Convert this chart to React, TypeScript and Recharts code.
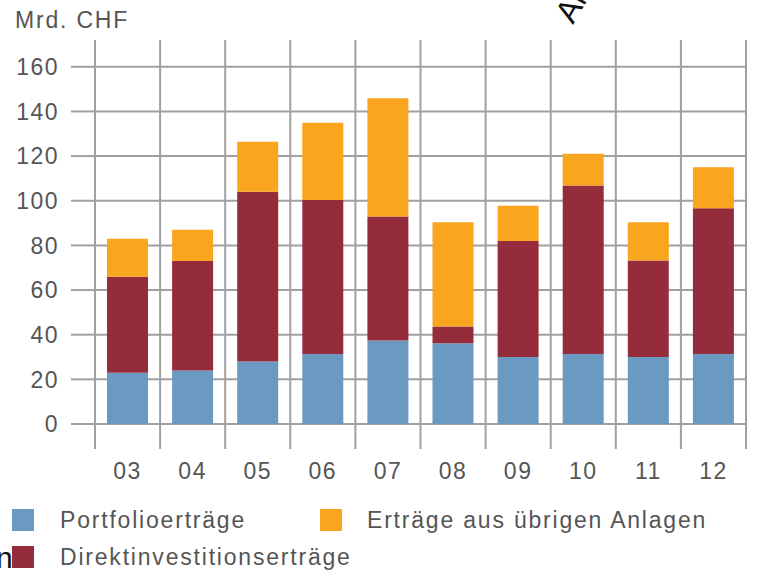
import { BarChart, Bar, XAxis, YAxis, CartesianGrid } from 'recharts';

/* ---- data (Mrd. CHF) ---- */
const YEARS = ['03', '04', '05', '06', '07', '08', '09', '10', '11', '12'];
const PORTFOLIO = [23, 24, 28, 31.3, 37.4, 36.2, 30, 31.3, 30, 31.3];
const DIREKT = [43, 49, 76, 69, 55.5, 7.5, 52, 75.5, 43.2, 65.3];
const UEBRIGE = [17, 14, 22.4, 34.6, 53, 46.7, 15.8, 14.2, 17.2, 18.4];
const Y_TICKS = [0, 20, 40, 60, 80, 100, 120, 140, 160];

const data = YEARS.map((year, i) => ({
  year,
  portfolio: PORTFOLIO[i],
  direkt: DIREKT[i],
  uebrige: UEBRIGE[i],
}));

const BLUE = '#6a9ac2';
const MAROON = '#952c3b';
const ORANGE = '#f9a51e';
const GRID = '#a0a0a0';
const TEXT = '#555555';
const FONT = '"Liberation Sans", Arial, sans-serif';

const tickStyle = {
  fill: TEXT,
  fontSize: 23,
  fontFamily: FONT,
  letterSpacing: 1.5,
};

const legendText: React.CSSProperties = {
  position: 'absolute',
  fontFamily: FONT,
  fontSize: 23,
  letterSpacing: 1.8,
  color: TEXT,
  lineHeight: '24px',
  whiteSpace: 'nowrap',
};

// vertical grid lines sit on the band edges, not on the band centres
function bandEdges({ xAxis, offset }: any) {
  const s = xAxis && xAxis.scale;
  const fn =
    typeof s === 'function' ? s : s && typeof s.map === 'function' ? (v: string) => s.map(v) : null;
  if (fn) {
    const starts = YEARS.map((y) => fn(y)).filter((v: any) => typeof v === 'number');
    if (starts.length === YEARS.length) {
      const step = starts[1] - starts[0];
      return [...starts, starts[starts.length - 1] + step];
    }
  }
  const step = offset.width / YEARS.length;
  return [...YEARS.map((_, i) => offset.left + i * step), offset.left + offset.width];
}

// year label plus the tick marks on the band edges below the zero line
function YearTick(props: any) {
  const { x, y, payload, index } = props;
  const half = payload.offset || 0;
  const last = index === YEARS.length - 1;
  return (
    <g>
      <line x1={x - half} x2={x - half} y1={y} y2={y + 25} stroke={GRID} strokeWidth={2} />
      {last && (
        <line x1={x + half} x2={x + half} y1={y} y2={y + 25} stroke={GRID} strokeWidth={2} />
      )}
      <text
        x={x}
        y={y + 55}
        textAnchor="middle"
        fill={TEXT}
        fontSize={23}
        fontFamily={FONT}
        style={{ letterSpacing: 1.5 }}
      >
        {payload.value}
      </text>
    </g>
  );
}

function Swatch({ x, y, color }: { x: number; y: number; color: string }) {
  return (
    <div
      style={{
        position: 'absolute',
        left: x,
        top: y,
        width: 22,
        height: 22,
        background: color,
      }}
    />
  );
}

export default function App() {
  return (
    <div
      style={{
        position: 'absolute',
        left: 0,
        top: 0,
        width: 761,
        height: 570,
        overflow: 'hidden',
        background: '#fff',
      }}
    >
      {/* unit label */}
      <div style={{ ...legendText, left: 15, top: 8 }}>Mrd. CHF</div>

      <BarChart
        width={761}
        height={570}
        data={data}
        margin={{ top: 40, right: 0, left: 0, bottom: 76 }}
        barSize={41}
      >
        <CartesianGrid
          stroke={GRID}
          strokeWidth={2}
          syncWithTicks
          verticalCoordinatesGenerator={bandEdges}
        />
        <XAxis
          dataKey="year"
          axisLine={false}
          tickLine={false}
          tickSize={0}
          tickMargin={0}
          interval={0}
          tick={<YearTick />}
          height={70}
        />
        <YAxis
          domain={[0, 172]}
          ticks={Y_TICKS}
          width={95}
          axisLine={false}
          tickLine={{ stroke: GRID, strokeWidth: 2 }}
          tickSize={24}
          tickMargin={12}
          tick={tickStyle}
        />
        <YAxis
          yAxisId="right"
          orientation="right"
          domain={[0, 172]}
          ticks={Y_TICKS}
          width={15}
          axisLine={false}
          tickLine={{ stroke: GRID, strokeWidth: 2 }}
          tickSize={15}
          tickFormatter={() => ''}
        />
        <Bar dataKey="portfolio" stackId="a" fill={BLUE} isAnimationActive={false} />
        <Bar dataKey="direkt" stackId="a" fill={MAROON} isAnimationActive={false} />
        <Bar dataKey="uebrige" stackId="a" fill={ORANGE} isAnimationActive={false} />
      </BarChart>

      {/* legend */}
      <Swatch x={12} y={509} color={BLUE} />
      <div style={{ ...legendText, left: 60, top: 508 }}>Portfolioerträge</div>
      <Swatch x={320} y={509} color={ORANGE} />
      <div style={{ ...legendText, left: 367, top: 508 }}>Erträge aus übrigen Anlagen</div>
      <Swatch x={12} y={546} color={MAROON} />
      <div style={{ ...legendText, left: 60, top: 545 }}>Direktinvestitionserträge</div>

      {/* stray text from neighbouring page */}
      <div
        style={{
          position: 'absolute',
          left: -4,
          top: 541,
          fontFamily: FONT,
          fontSize: 30,
          color: '#111',
        }}
      >
        n
      </div>
      <div
        style={{
          position: 'absolute',
          left: 580,
          top: -8,
          fontFamily: FONT,
          fontSize: 32,
          color: '#111',
          transform: 'rotate(-60deg)',
          transformOrigin: '0 100%',
        }}
      >
        An
      </div>
    </div>
  );
}
